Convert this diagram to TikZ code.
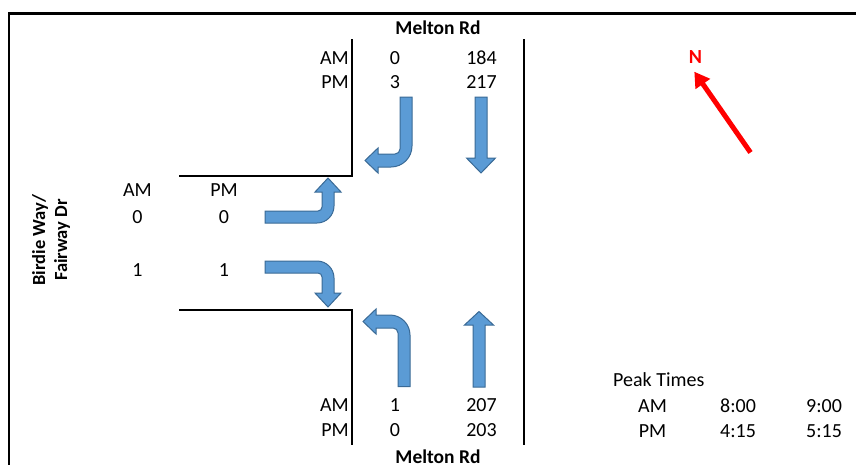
\documentclass[tikz,border=0pt]{standalone}
\usepackage{fontspec}
\setmainfont{Carlito}
\usetikzlibrary{arrows.meta}
\definecolor{flowfill}{HTML}{5B9BD5}
\definecolor{flowline}{HTML}{3A6A96}
\definecolor{northred}{HTML}{FF0000}
\begin{document}
\begin{tikzpicture}[x=1pt,y=-1pt,
  flow/.style={fill=flowfill, draw=flowline, line width=1pt, line join=miter},
  road/.style={draw=black, line width=2pt},
  frame/.style={draw=black, line width=2.6pt},
  lbl/.style={font=\fontsize{20}{24}\selectfont, inner sep=0pt, anchor=base},
  lblr/.style={lbl, anchor=base east},
  lbll/.style={lbl, anchor=base west},
  title/.style={font=\fontsize{19.5}{23}\selectfont\bfseries, inner sep=0pt, anchor=base},
]
\useasboundingbox (0,0) rectangle (856,464);

% frame
\draw[frame] (9,470) -- (9,13.5) -- (860,13.5);

% kerb lines of the intersection
\draw[road] (351.5,39) -- (351.5,176) -- (179,176);
\draw[road] (179,310) -- (351.5,310) -- (351.5,445);
\draw[road] (524,39) -- (524,445);

% street names
\node[title] (mnorth) at (438,34) {Melton Rd};
\node[title] (msouth) at (438,463) {Melton Rd};
\node[font=\fontsize{18.5}{22}\selectfont\bfseries, inner sep=0pt, align=center, rotate=90] (birdie) at (51,240) {Birdie Way/\\Fairway Dr};

% northern approach volumes
\node[lblr] (nam) at (349,64) {AM};
\node[lblr] (npm) at (349,88.5) {PM};
\node[lbl] (nlam) at (395,64) {0};
\node[lbl] (nlpm) at (395,88.5) {3};
\node[lbl] (ntam) at (481.5,64) {184};
\node[lbl] (ntpm) at (481.5,88.5) {217};

% southern approach volumes
\node[lblr] (sam) at (349,411.5) {AM};
\node[lblr] (spm) at (349,436.5) {PM};
\node[lbl] (slam) at (395,411.5) {1};
\node[lbl] (slpm) at (395,436.5) {0};
\node[lbl] (stam) at (481.5,411.5) {207};
\node[lbl] (stpm) at (481.5,436.5) {203};

% western approach volumes
\node[lbl] (wam) at (137.5,196.5) {AM};
\node[lbl] (wpm) at (224,196.5) {PM};
\node[lbl] (wlam) at (137.5,223) {0};
\node[lbl] (wlpm) at (224,223) {0};
\node[lbl] (wram) at (137.5,276.5) {1};
\node[lbl] (wrpm) at (224,276.5) {1};

% peak periods
\node[lbll] (peak) at (613,386) {Peak Times};
\node[lbl] (pam) at (652.5,412) {AM};
\node[lbl] (ppm) at (652.5,437) {PM};
\node[lbl] (pams) at (738,412) {8:00};
\node[lbl] (pame) at (824,412) {9:00};
\node[lbl] (ppms) at (738,437) {4:15};
\node[lbl] (ppme) at (824,437) {5:15};

% north arrow
\node[font=\fontsize{20}{23}\selectfont\bfseries, text=northred, inner sep=0pt, anchor=base] (nlabel) at (695.5,63) {N};
\coordinate (ntail) at (750.5,152.5);
\coordinate (ntip) at (694.3,71.7);
\draw[northred, line width=5pt, -{Triangle[length=15pt,width=17pt]}] (ntail) -- (ntip);

% southbound right turn
\path[flow] (400,97) -- (412,97) -- (412,146)
  .. controls (412,157.6) and (402.6,167) .. (391,167)
  -- (378,167) -- (378,173) -- (365,160.5) -- (378,148) -- (378,154) -- (395,154)
  .. controls (397.8,154) and (400,151.8) .. (400,149) -- cycle;

% southbound through
\path[flow] (475,97) -- (487,97) -- (487,158) -- (495.5,158) -- (481,173)
  -- (466.5,158) -- (475,158) -- cycle;

% northbound through
\path[flow] (473,387) -- (485,387) -- (485,325) -- (493.5,325) -- (479,311.5)
  -- (464.5,325) -- (473,325) -- cycle;

% northbound left turn
\path[flow] (398,386.5) -- (410,386.5) -- (410,335)
  .. controls (410,324) and (401,315) .. (390,315)
  -- (376,315) -- (376,309) -- (363,321.5) -- (376,334) -- (376,328) -- (393,328)
  .. controls (395.8,328) and (398,330.2) .. (398,333) -- cycle;

% eastbound left turn
\path[flow] (265,211) -- (265,223) -- (317,223)
  .. controls (326.4,223) and (334,215.4) .. (334,206)
  -- (334,192) -- (341,192) -- (328,178) -- (315,192) -- (322,192) -- (322,207)
  .. controls (322,209.2) and (320.2,211) .. (318,211) -- cycle;

% eastbound right turn
\path[flow] (265,273) -- (265,261) -- (317,261)
  .. controls (326.4,261) and (334,268.6) .. (334,278)
  -- (334,293) -- (341,293) -- (328,307) -- (315,293) -- (322,293) -- (322,277)
  .. controls (322,274.8) and (320.2,273) .. (318,273) -- cycle;
\end{tikzpicture}
\end{document}
